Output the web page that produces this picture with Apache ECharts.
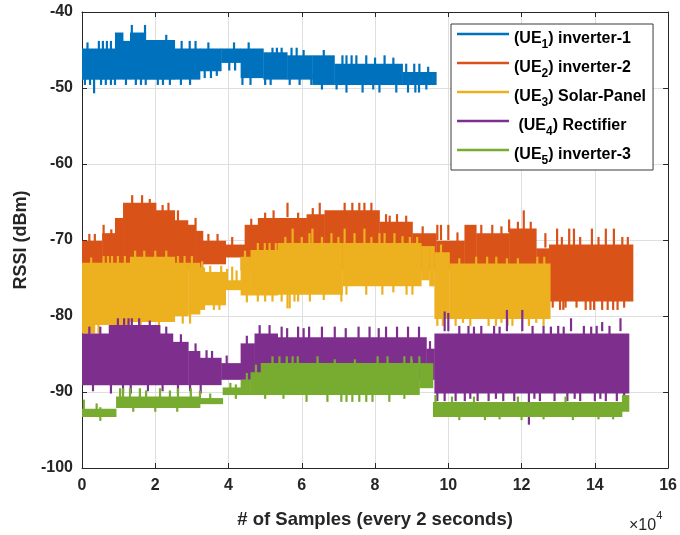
<!DOCTYPE html>
<html>
<head>
<meta charset="utf-8">
<script src="https://cdn.jsdelivr.net/npm/echarts@6/dist/echarts.min.js"></script>
<style>
  html, body { margin: 0; padding: 0; background: #fff; }
  #chart { width: 680px; height: 535px; }
</style>
</head>
<body>
<div id="chart"></div>
<script>
// RSSI traces of five UEs. x is the sample index in units of 1e4 samples.
// Body rows: [xStart, xEnd, upper dBm, lower dBm] - the band the trace fills.
// Spike rows: [x, upper dBm, lower dBm] - single excursions outside the band.

const ueNames = ['UE1', 'UE2', 'UE3', 'UE4', 'UE5'];
const ueIndex = ['1', '2', '3', '4', '5'];
const ueDevices = [' inverter-1', ' inverter-2', ' Solar-Panel', ' Rectifier', ' inverter-3'];
const ueLead = ['', '', '', ' ', ''];
const ueColors = ['#0072BD', '#D95319', '#EDB120', '#7E2F8E', '#77AC30'];

const ue1Body = [
  [0.00, 0.90, -44.8, -48.9], [0.90, 1.12, -42.7, -48.9], [1.12, 1.31, -43.8, -48.9],
  [1.31, 1.74, -42.7, -48.9], [1.74, 2.53, -43.7, -48.9], [2.53, 3.22, -44.8, -48.9],
  [3.22, 3.80, -44.8, -47.8], [3.80, 4.33, -44.8, -46.7], [4.33, 4.95, -44.8, -48.7],
  [4.95, 5.60, -45.3, -48.9], [5.60, 6.29, -45.7, -48.9], [6.29, 6.89, -45.7, -49.6],
  [6.89, 8.75, -46.8, -49.6], [8.75, 9.67, -47.9, -49.6]
];
const ue1Spikes = [
  [0.46, -43.8, -45], [0.57, -43.8, -45], [0.68, -43.8, -45], [0.79, -43.8, -45],
  [1.36, -41.7, -43], [1.72, -41.7, -43], [2.72, -43.8, -45], [2.94, -43.8, -45],
  [3.10, -43.8, -45], [5.20, -44.7, -46], [5.32, -44.7, -46], [5.45, -44.7, -46],
  [5.72, -44.7, -46], [5.86, -44.7, -46], [7.11, -45.7, -47], [7.22, -45.7, -47],
  [7.36, -45.7, -47], [7.49, -45.7, -47], [7.76, -45.7, -47], [8.26, -45.7, -47],
  [8.85, -46.8, -48], [9.07, -46.8, -48], [9.21, -46.8, -48],
  [0.08, -48, -49.6], [0.22, -48, -49.6], [0.33, -48, -50.7], [0.52, -48, -49.6],
  [0.65, -48, -49.6], [0.79, -48, -49.6], [0.90, -48, -49.6], [1.47, -48, -49.6],
  [1.61, -48, -49.6], [1.74, -48, -49.6], [2.07, -48, -49.6], [2.21, -48, -49.6],
  [2.70, -48, -49.6], [4.38, -48, -49.6], [4.60, -48, -49.6], [5.00, -48, -49.6],
  [5.15, -48, -49.6], [5.67, -48, -49.6], [5.94, -48, -49.6], [6.26, -48, -49.6],
  [7.22, -49, -50.6], [7.66, -49, -50.6], [8.12, -49, -50.6], [8.58, -49, -50.6],
  [8.90, -49, -50.6], [9.10, -49, -50.6], [9.20, -49, -50.6],
  [3.35, -47, -48.7], [3.52, -47, -48.7], [3.68, -47, -48.4], [4.02, -46, -47.7],
  [4.18, -46, -47.7], [1.20, -48, -49.6], [2.40, -48, -49.6], [2.95, -48, -49.6],
  [6.55, -49, -50.2], [6.95, -49, -50.2], [7.95, -49, -50.2], [9.40, -49, -50.2],
  [0.15, -44, -45.5], [2.30, -43, -44.5], [3.45, -44, -45.5], [4.15, -44, -45.5],
  [4.55, -44, -45.5], [6.05, -45, -46.3], [6.60, -45, -46.3], [8.00, -46, -47.4],
  [8.50, -46, -47.4], [9.45, -47.2, -48.4]
];

const ue2Body = [
  [0.00, 0.55, -70.1, -74.0], [0.55, 0.90, -69.1, -74.0], [0.90, 1.12, -67.1, -74.0],
  [1.12, 2.02, -65.1, -74.0], [2.02, 2.53, -66.1, -74.0], [2.53, 2.89, -67.4, -74.0],
  [2.89, 3.10, -68.0, -74.0], [3.10, 3.30, -68.8, -74.0], [3.30, 3.92, -70.1, -73.2],
  [3.92, 4.33, -70.6, -72.3], [4.33, 4.44, -70.6, -74.0], [4.44, 4.80, -68.0, -74.0],
  [4.80, 6.13, -67.1, -74.0], [6.13, 6.62, -66.6, -74.0], [6.62, 8.12, -66.1, -74.0],
  [8.12, 9.02, -67.6, -74.0], [9.02, 9.67, -69.1, -74.0], [9.67, 10.44, -70.1, -74.0],
  [10.44, 10.76, -68.0, -74.0], [10.76, 11.66, -69.1, -74.0], [11.66, 12.40, -68.5, -74.0],
  [12.40, 12.75, -71.1, -78.1], [12.75, 15.04, -70.6, -78.1]
];
const ue2Spikes = [
  [0.59, -68.0, -70], [0.80, -68.6, -70], [1.37, -64.1, -66], [1.64, -64.1, -66],
  [2.36, -65.1, -67], [2.62, -66.1, -68], [3.10, -67.1, -69], [5.23, -66.1, -68],
  [5.61, -65.1, -67], [6.49, -65.1, -67], [7.17, -65.1, -67], [7.38, -65.1, -67],
  [7.57, -65.1, -67], [7.71, -65.1, -67], [7.90, -65.1, -67], [8.30, -66.6, -68],
  [8.60, -66.6, -68], [9.70, -68.0, -70], [9.80, -68.0, -70], [10.00, -68.0, -70],
  [10.90, -68.0, -70], [11.20, -68.0, -70], [11.66, -67.3, -69], [12.06, -66.1, -69],
  [12.65, -69.1, -71], [12.97, -68.5, -71], [13.30, -68.5, -71], [13.43, -68.5, -71],
  [13.92, -68.5, -71], [14.30, -68.5, -71], [14.52, -68.5, -71],
  [12.85, -77, -78.9], [13.05, -77, -79.2], [13.14, -77, -79.2], [13.75, -77, -79.2],
  [13.88, -77, -79.2], [13.98, -77, -79.2], [14.20, -77, -79.2], [14.35, -77, -79.2],
  [14.50, -77, -79.2], [14.62, -77, -79.2],
  [0.20, -69.2, -71], [0.35, -69.2, -71], [1.85, -64.6, -66], [2.20, -65.4, -67],
  [3.45, -69.2, -71], [3.70, -69.2, -71], [4.10, -69.6, -71], [4.62, -67.2, -69],
  [5.00, -66.4, -68], [5.90, -66.4, -68], [6.30, -65.8, -67], [8.40, -66.8, -68],
  [8.85, -66.8, -68], [9.30, -68.2, -70], [10.25, -69.0, -71], [11.45, -68.2, -70],
  [11.90, -67.6, -69], [12.25, -67.6, -69], [13.10, -69.6, -71], [13.60, -69.6, -71],
  [14.10, -69.6, -71], [14.75, -69.6, -71], [14.90, -69.6, -71], [13.20, -77, -78.9],
  [13.50, -77, -78.9], [14.80, -77, -78.9]
];

const ue3Body = [
  [0.00, 0.35, -73.0, -82.3], [0.35, 1.31, -73.0, -81.2], [1.31, 2.53, -72.2, -80.8],
  [2.53, 2.90, -73.0, -80.0], [2.90, 3.22, -73.0, -79.8], [3.22, 3.35, -73.6, -79.2],
  [3.35, 3.92, -74.2, -78.6], [3.92, 4.33, -75.3, -76.6], [4.33, 4.60, -72.2, -77.3],
  [4.60, 5.34, -71.3, -77.3], [5.34, 7.11, -70.4, -77.2], [7.11, 9.26, -70.4, -76.1],
  [9.26, 9.48, -70.8, -75.3], [9.48, 9.62, -70.8, -76.1], [9.62, 10.03, -71.6, -80.4],
  [10.03, 12.78, -73.1, -80.4]
];
const ue3Spikes = [
  [0.59, -72.1, -74], [0.71, -72.1, -74], [0.82, -72.1, -74], [0.98, -72.1, -74],
  [1.17, -72.1, -74], [2.62, -72.1, -74], [2.80, -72.1, -74], [3.00, -72.1, -74],
  [3.96, -73.8, -76], [4.10, -73.5, -76], [4.22, -74.0, -76], [4.80, -70.4, -72],
  [4.99, -70.4, -72], [5.12, -70.4, -72], [5.29, -70.4, -72], [5.75, -68.5, -71],
  [6.21, -69.1, -71], [6.29, -68.5, -71], [6.81, -69.1, -71], [7.17, -68.5, -71],
  [7.44, -69.1, -71], [7.71, -68.5, -71], [8.12, -69.1, -71], [8.26, -69.1, -71],
  [8.53, -69.1, -71], [8.75, -69.5, -71], [10.76, -72.2, -74], [11.06, -72.2, -74],
  [11.31, -72.2, -74], [12.43, -72.2, -74], [12.62, -72.2, -74],
  [0.45, -80, -82.3], [2.75, -79, -81], [2.95, -79, -81], [3.60, -78, -79.2],
  [3.75, -78, -79.2], [4.50, -76, -78.2], [4.80, -76, -78.1], [5.00, -76, -78.1],
  [5.20, -76, -78.1], [5.45, -76, -78.1], [5.61, -76, -79.0], [5.67, -76, -79.0],
  [5.80, -76, -78.1], [5.90, -76, -78.1], [6.22, -76, -78.1], [7.08, -76, -78.1],
  [7.22, -75, -77.2], [7.76, -75, -77.2], [8.20, -75, -77.2], [8.86, -75, -77.2],
  [9.02, -75, -77.2], [9.70, -79, -81.3], [9.85, -79, -81.3], [10.20, -79, -81.3],
  [10.60, -79, -81.3], [11.10, -79, -81.3], [11.30, -79, -81.3], [11.62, -79, -81.3],
  [11.75, -79, -81.3], [12.20, -79, -81.3], [12.60, -79, -81.3],
  [0.25, -72.3, -74], [1.45, -71.4, -73], [1.70, -71.4, -73], [2.00, -71.4, -73],
  [2.30, -71.4, -73], [3.28, -72.8, -74], [3.50, -73.4, -75], [3.80, -73.4, -75],
  [4.45, -71.4, -73], [5.55, -69.6, -71], [6.00, -69.6, -71], [6.55, -69.6, -71],
  [7.00, -69.6, -71], [7.90, -69.6, -71], [8.95, -69.6, -71], [9.15, -69.6, -71],
  [9.80, -70.6, -72], [10.30, -72.4, -74], [11.60, -72.4, -74], [11.90, -72.4, -74],
  [1.60, -79, -81.6], [2.10, -79, -81.4], [6.60, -76, -77.9], [8.50, -75, -76.9],
  [10.40, -79, -80.9], [11.45, -79, -80.9], [12.40, -79, -80.9]
];

const ue4Body = [
  [0.00, 0.76, -82.3, -89.1], [0.76, 2.13, -81.2, -89.1], [2.13, 2.48, -82.3, -89.1],
  [2.48, 2.90, -83.4, -89.1], [2.90, 3.22, -84.6, -89.1], [3.22, 3.80, -85.5, -89.1],
  [3.80, 4.33, -86.2, -88.4], [4.33, 4.71, -83.6, -88.4], [4.71, 5.34, -82.3, -88.4],
  [5.34, 9.40, -82.8, -88.4], [9.40, 9.62, -84.3, -88.4], [9.62, 14.93, -82.3, -90.2]
];
const ue4Spikes = [
  [0.76, -81.2, -83], [0.98, -80.3, -82], [1.15, -80.3, -82], [1.27, -80.3, -82],
  [1.36, -80.3, -82], [1.56, -80.3, -82], [3.55, -84.6, -86], [3.95, -85.2, -87],
  [4.85, -81.2, -83], [5.12, -81.2, -83], [5.45, -81.4, -83], [5.90, -81.4, -83],
  [6.20, -81.4, -83], [6.55, -81.4, -83], [6.90, -81.4, -83], [7.55, -81.4, -83],
  [7.85, -81.4, -83], [8.30, -81.4, -83], [8.60, -81.4, -83], [8.90, -81.4, -83],
  [9.20, -81.4, -83], [9.90, -79.4, -82], [10.00, -79.6, -82], [10.30, -81.3, -83],
  [10.55, -81.3, -83], [10.90, -81.3, -83], [11.25, -81.3, -83], [11.60, -79.2, -82],
  [12.02, -79.2, -82], [12.30, -81.3, -83], [12.60, -81.3, -83], [13.00, -81.3, -83],
  [13.35, -80.3, -82], [13.70, -81.3, -83], [14.05, -81.3, -83], [14.40, -81.3, -83],
  [14.70, -80.3, -82],
  [0.79, -88, -90.2], [1.12, -88, -90.2], [1.33, -88, -90.2], [2.62, -88, -90.2],
  [3.24, -88, -90.2], [9.70, -89, -91.2], [9.90, -89, -91.2], [10.20, -89, -91.2],
  [10.45, -89, -91.2], [10.80, -89, -91.2], [11.10, -89, -91.2], [11.50, -89, -91.2],
  [11.80, -89, -91.2], [12.20, -89, -94.3], [12.50, -89, -91.2], [12.90, -89, -91.2],
  [13.25, -89, -91.2], [13.60, -89, -91.2], [14.00, -89, -91.2], [14.30, -89, -91.2],
  [14.60, -89, -91.2],
  [0.20, -81.4, -83], [0.50, -81.4, -83], [1.85, -80.6, -82], [2.30, -81.4, -83],
  [2.70, -82.4, -84], [3.10, -83.6, -85], [3.40, -84.5, -86], [4.50, -82.6, -84],
  [5.60, -81.6, -83], [6.05, -81.6, -83], [7.20, -81.6, -83], [8.10, -81.6, -83],
  [9.50, -83.3, -85], [10.70, -81.4, -83], [11.40, -81.4, -83], [12.80, -81.4, -83],
  [13.15, -81.4, -83], [13.90, -81.4, -83], [14.20, -80.8, -82],
  [0.30, -88, -89.9], [1.80, -88, -89.9], [2.20, -88, -89.9], [2.95, -88, -89.9],
  [10.60, -89, -90.9], [11.30, -89, -90.9], [12.35, -89, -90.9], [13.45, -89, -90.9],
  [14.15, -89, -90.9], [14.80, -89, -90.9]
];

const ue5Body = [
  [0.00, 0.93, -92.2, -93.3], [0.93, 3.22, -90.6, -92.1], [3.22, 3.84, -90.8, -91.6],
  [3.84, 4.33, -89.4, -90.4], [4.33, 4.60, -88.4, -90.4], [4.60, 4.88, -87.4, -90.4],
  [4.88, 9.21, -86.2, -90.4], [9.21, 9.58, -86.2, -89.5], [9.58, 14.74, -91.3, -93.3],
  [14.74, 14.93, -90.4, -92.6]
];
const ue5Spikes = [
  [0.05, -91.0, -92.5], [0.40, -91.5, -92.5], [1.04, -89.5, -91], [1.12, -89.5, -91],
  [1.31, -89.5, -91], [1.58, -89.5, -91], [2.13, -89.5, -91], [2.62, -89.5, -91],
  [2.97, -89.5, -91], [3.22, -89.8, -91], [4.50, -87.5, -89], [4.75, -86.4, -88],
  [5.20, -85.3, -87], [5.39, -85.3, -87], [5.59, -85.3, -87], [5.75, -85.3, -87],
  [5.89, -85.3, -87], [6.43, -85.3, -87], [8.07, -85.3, -87], [8.34, -85.3, -87],
  [8.80, -85.3, -87], [8.99, -85.3, -87], [9.21, -85.3, -87],
  [0.50, -92, -93.8], [2.00, -91.5, -92.6], [2.60, -91.5, -92.6], [6.13, -90, -91.3],
  [6.70, -90, -91.3], [7.08, -90, -91.3], [7.22, -90, -91.3], [7.38, -90, -91.3],
  [7.57, -90, -91.3], [7.76, -90, -91.3], [7.93, -90, -91.3], [8.39, -90, -91.3],
  [9.65, -90.4, -92], [10.10, -90.6, -92], [10.70, -90.6, -92], [11.90, -90.6, -92],
  [13.20, -90.6, -92], [10.30, -92.5, -93.7], [11.00, -92.5, -93.7], [12.00, -92.5, -93.7],
  [13.40, -92.5, -93.7],
  [1.75, -89.8, -91], [2.40, -89.8, -91], [3.50, -90.2, -91], [4.05, -88.8, -90],
  [6.90, -85.7, -87], [7.45, -85.7, -87], [9.00, -85.7, -87], [4.20, -89, -90.9],
  [5.00, -89, -90.9], [5.50, -89, -90.9], [8.80, -89, -90.9], [1.40, -91, -92.6],
  [11.40, -92.5, -93.6], [12.60, -92.5, -93.6], [14.10, -92.5, -93.6], [14.50, -92.5, -93.6]
];

const bodies = [ue1Body, ue2Body, ue3Body, ue4Body, ue5Body];
const spikes = [ue1Spikes, ue2Spikes, ue3Spikes, ue4Spikes, ue5Spikes];

const FONT = '"Liberation Sans", Arial, Helvetica, sans-serif';
const AXIS_COLOR = '#262626';
const GRID_COLOR = '#dfdfdf';

// A spike row becomes a zero-width row that is drawn as a thin vertical stroke.
function rowsOf(body, spk) {
  return body.concat(spk.map(function (s) { return [s[0], s[0], s[1], s[2]]; }));
}

function renderBand(params, api) {
  const x0 = api.value(0), x1 = api.value(1), hi = api.value(2), lo = api.value(3);
  const a = api.coord([x0, hi]);
  const b = api.coord([x1, lo]);
  const fill = api.visual('color');
  if (x0 === x1) {
    return { type: 'rect', shape: { x: a[0] - 1.1, y: a[1], width: 2.2, height: b[1] - a[1] }, style: { fill: fill } };
  }
  return { type: 'rect', shape: { x: a[0], y: a[1], width: b[0] - a[0] + 0.4, height: b[1] - a[1] }, style: { fill: fill } };
}

const series = ueNames.map(function (name, i) {
  return {
    type: 'custom',
    name: name,
    renderItem: renderBand,
    data: rowsOf(bodies[i], spikes[i]),
    encode: { x: [0, 1], y: [2, 3] },
    itemStyle: { color: ueColors[i] },
    clip: true,
    z: 2 + i,
    animation: false
  };
});

const tickLabel = { fontFamily: FONT, fontSize: 16, fontWeight: 'bold', color: AXIS_COLOR };

const option = {
  animation: false,
  backgroundColor: '#fff',
  grid: { left: 82, right: 11, top: 12, bottom: 67, containLabel: false },
  xAxis: [
    {
      type: 'value', min: 0, max: 16, interval: 2, position: 'bottom',
      name: '# of Samples (every 2 seconds)', nameLocation: 'middle', nameGap: 42,
      nameTextStyle: { fontFamily: FONT, fontSize: 18.5, fontWeight: 'bold', color: AXIS_COLOR },
      axisLine: { show: true, onZero: false, lineStyle: { color: AXIS_COLOR, width: 1 } },
      axisTick: { show: true, inside: true, length: 5, lineStyle: { color: AXIS_COLOR } },
      axisLabel: Object.assign({ margin: 10 }, tickLabel),
      splitLine: { show: true, lineStyle: { color: GRID_COLOR, width: 1 } }
    },
    {
      type: 'value', min: 0, max: 16, interval: 2, position: 'top',
      axisLine: { show: true, onZero: false, lineStyle: { color: AXIS_COLOR, width: 1 } },
      axisTick: { show: true, inside: true, length: 5, lineStyle: { color: AXIS_COLOR } },
      axisLabel: { show: false }, splitLine: { show: false }
    }
  ],
  yAxis: [
    {
      type: 'value', min: -100, max: -40, interval: 10, position: 'left',
      name: 'RSSI (dBm)', nameLocation: 'middle', nameGap: 50,
      nameTextStyle: { fontFamily: FONT, fontSize: 18, fontWeight: 'bold', color: AXIS_COLOR },
      axisLine: { show: true, onZero: false, lineStyle: { color: AXIS_COLOR, width: 1 } },
      axisTick: { show: true, inside: true, length: 5, lineStyle: { color: AXIS_COLOR } },
      axisLabel: Object.assign({ margin: 9 }, tickLabel),
      splitLine: { show: true, lineStyle: { color: GRID_COLOR, width: 1 } }
    },
    {
      type: 'value', min: -100, max: -40, interval: 10, position: 'right',
      axisLine: { show: true, onZero: false, lineStyle: { color: AXIS_COLOR, width: 1 } },
      axisTick: { show: true, inside: true, length: 5, lineStyle: { color: AXIS_COLOR } },
      axisLabel: { show: false }, splitLine: { show: false }
    }
  ],
  legend: {
    orient: 'vertical', left: 451, top: 24,
    padding: [2, 7, 2, 6], itemGap: 3, itemWidth: 52, itemHeight: 2.5,
    icon: 'rect', backgroundColor: '#fff', borderColor: '#3a3a3a', borderWidth: 1,
    data: ueNames,
    formatter: function (name) {
      const i = ueNames.indexOf(name);
      return '{m|' + ueLead[i] + '(UE}{s|' + ueIndex[i] + '}{m|)' + ueDevices[i] + '}';
    },
    textStyle: {
      rich: {
        m: { fontFamily: FONT, fontSize: 16, fontWeight: 'bold', color: '#000', lineHeight: 16, padding: [5, 0, 5, 0], verticalAlign: 'top' },
        s: { fontFamily: FONT, fontSize: 12, fontWeight: 'bold', color: '#000', lineHeight: 12, padding: [13, 0, 1, 0], verticalAlign: 'top' }
      }
    }
  },
  graphic: [{
    type: 'text', left: 629, top: 510, silent: true,
    style: {
      text: '{a|×10}{b|4}',
      rich: {
        a: { fontFamily: FONT, fontSize: 16, fontWeight: 'normal', fill: AXIS_COLOR, lineHeight: 16, padding: [8, 0, 0, 0], verticalAlign: 'top' },
        b: { fontFamily: FONT, fontSize: 11, fontWeight: 'normal', fill: AXIS_COLOR, lineHeight: 11, padding: [0, 0, 0, 0], verticalAlign: 'top' }
      }
    }
  }],
  series: series
};

const chart = echarts.init(document.getElementById('chart'), null, { renderer: 'canvas' });
chart.setOption(option);
</script>
</body>
</html>
